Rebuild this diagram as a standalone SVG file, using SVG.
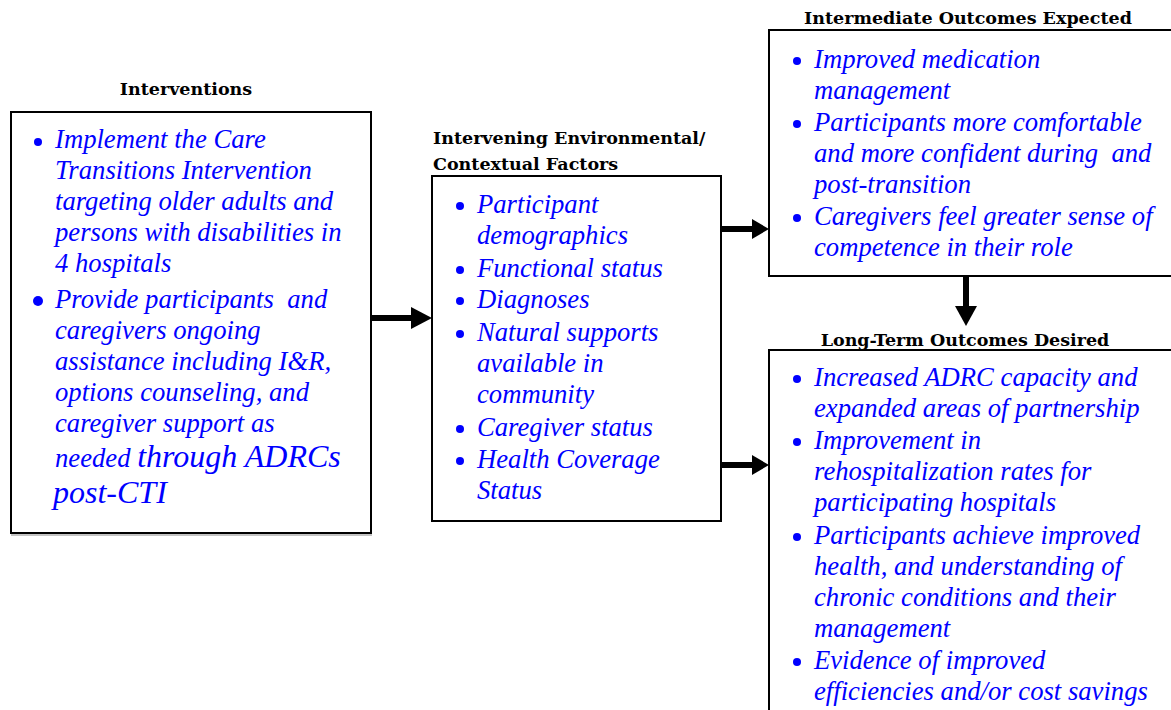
<svg xmlns="http://www.w3.org/2000/svg" width="1171" height="710" viewBox="0 0 1171 710">
<defs>
<style>
.box{fill:#fff;stroke:#000;stroke-width:2}
.hd{font-family:"DejaVu Serif","Liberation Serif",serif;font-weight:bold;font-size:17.5px;fill:#000}
.tx{font-family:"Liberation Serif","Times New Roman",serif;font-style:italic;font-size:26.67px;fill:#0000ff}
.big{font-size:32px}
.dot{fill:#0000ff}
.shaft{stroke:#000;stroke-width:6;fill:none}
.head{fill:#000}
</style>
</defs>
<rect width="1171" height="710" fill="#fff"/>
<g id="connectors">
<line class="shaft" x1="372" y1="318" x2="414" y2="318"/>
<polygon class="head" points="411,307 432,318 411,329"/>
<line class="shaft" x1="722" y1="229" x2="754" y2="229"/>
<polygon class="head" points="752,219 769,229 752,239"/>
<line class="shaft" x1="722" y1="465" x2="754" y2="465"/>
<polygon class="head" points="752,455 769,465 752,475"/>
<line class="shaft" x1="966" y1="277" x2="966" y2="308"/>
<polygon class="head" points="955,306 966,326 977,306"/>
</g>
<g id="interventions">
<text class="hd" x="186" y="95" text-anchor="middle">Interventions</text>
<line x1="11" y1="535" x2="372" y2="535" stroke="#888" stroke-width="1"/>
<rect class="box" x="11" y="112" width="360" height="421"/>
<circle class="dot" cx="38" cy="142" r="4"/>
<text class="tx" x="55" y="148">Implement the Care</text>
<text class="tx" x="55" y="179">Transitions Intervention</text>
<text class="tx" x="55" y="210">targeting older adults and</text>
<text class="tx" x="55" y="241">persons with disabilities in</text>
<text class="tx" x="55" y="272">4 hospitals</text>
<circle class="dot" cx="38" cy="301" r="5"/>
<text class="tx" x="55" y="308">Provide participants &#160;and</text>
<text class="tx" x="55" y="339">caregivers ongoing</text>
<text class="tx" x="55" y="370">assistance including I&amp;R,</text>
<text class="tx" x="55" y="401">options counseling, and</text>
<text class="tx" x="55" y="432">caregiver support as</text>
<text class="tx" x="55" y="467">needed <tspan class="big">through ADRCs</tspan></text>
<text class="tx big" x="53" y="503">post-CTI</text>
</g>
<g id="factors">
<text class="hd" x="433" y="144">Intervening Environmental/</text>
<text class="hd" x="433" y="170">Contextual Factors</text>
<rect class="box" x="432" y="176" width="289" height="345"/>
<circle class="dot" cx="460" cy="206" r="4"/>
<text class="tx" x="477" y="213">Participant</text>
<text class="tx" x="477" y="244">demographics</text>
<circle class="dot" cx="460" cy="270" r="4"/>
<text class="tx" x="477" y="277">Functional status</text>
<circle class="dot" cx="460" cy="301" r="4"/>
<text class="tx" x="477" y="308">Diagnoses</text>
<circle class="dot" cx="460" cy="334" r="4"/>
<text class="tx" x="477" y="341">Natural supports</text>
<text class="tx" x="477" y="372">available in</text>
<text class="tx" x="477" y="403">community</text>
<circle class="dot" cx="460" cy="429" r="4"/>
<text class="tx" x="477" y="436">Caregiver status</text>
<circle class="dot" cx="460" cy="461" r="4"/>
<text class="tx" x="477" y="468">Health Coverage</text>
<text class="tx" x="477" y="499">Status</text>
</g>
<g id="intermediate">
<text class="hd" x="968" y="24" text-anchor="middle">Intermediate Outcomes Expected</text>
<rect class="box" x="769" y="30" width="420" height="246"/>
<circle class="dot" cx="797" cy="61" r="4"/>
<text class="tx" x="814" y="68">Improved medication</text>
<text class="tx" x="814" y="99">management</text>
<circle class="dot" cx="797" cy="124" r="4"/>
<text class="tx" x="814" y="131">Participants more comfortable</text>
<text class="tx" x="814" y="162">and more confident during &#160;and</text>
<text class="tx" x="814" y="193">post-transition</text>
<circle class="dot" cx="797" cy="218" r="4"/>
<text class="tx" x="814" y="225">Caregivers feel greater sense of</text>
<text class="tx" x="814" y="256">competence in their role</text>
</g>
<g id="longterm">
<text class="hd" x="965" y="346" text-anchor="middle">Long-Term Outcomes Desired</text>
<rect class="box" x="769" y="350" width="420" height="380"/>
<circle class="dot" cx="797" cy="379" r="4"/>
<text class="tx" x="814" y="386">Increased ADRC capacity and</text>
<text class="tx" x="814" y="417">expanded areas of partnership</text>
<circle class="dot" cx="797" cy="442" r="4"/>
<text class="tx" x="814" y="449">Improvement in</text>
<text class="tx" x="814" y="480">rehospitalization rates for</text>
<text class="tx" x="814" y="511">participating hospitals</text>
<circle class="dot" cx="797" cy="537" r="4"/>
<text class="tx" x="814" y="544">Participants achieve improved</text>
<text class="tx" x="814" y="575">health, and understanding of</text>
<text class="tx" x="814" y="606">chronic conditions and their</text>
<text class="tx" x="814" y="637">management</text>
<circle class="dot" cx="797" cy="662" r="4"/>
<text class="tx" x="814" y="669">Evidence of improved</text>
<text class="tx" x="814" y="700">efficiencies and/or cost savings</text>
</g>
</svg>
